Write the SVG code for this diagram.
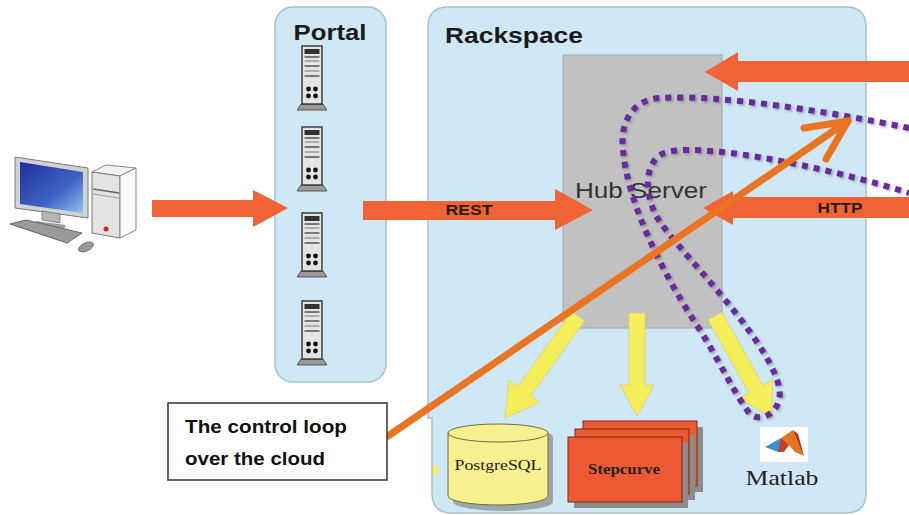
<svg xmlns="http://www.w3.org/2000/svg" xmlns:xlink="http://www.w3.org/1999/xlink" width="909" height="515" viewBox="0 0 909 515">
  <style>
    .panel { fill: #cfe8f5; stroke: #a9c2cf; stroke-width: 1.5; }
    .title { font-family: "Liberation Sans", Arial, sans-serif; font-weight: bold; font-size: 22px; fill: #1a1a1a; }
    .block { fill: #ef6335; }
    .lbl { font-family: "Liberation Sans", Arial, sans-serif; font-weight: bold; font-size: 15px; fill: #2a1a10; }
    .yarrow { fill: #f6ef5c; stroke: #d9d27a; stroke-width: 0.8; }
    .serif { font-family: "Liberation Serif", "Times New Roman", serif; fill: #222; }
    .loop { fill: none; stroke: #6a2c9e; stroke-width: 6; stroke-dasharray: 6 6; }
    .ctrl { fill: none; stroke: #ea7420; stroke-width: 7; stroke-linecap: round; stroke-linejoin: round; }
    .cap { font-family: "Liberation Sans", Arial, sans-serif; font-weight: bold; font-size: 19px; fill: #111; }
  </style>
  <defs>
    <filter id="soft" x="-10%" y="-10%" width="120%" height="120%">
      <feDropShadow dx="1.5" dy="1.5" stdDeviation="1.2" flood-color="#555" flood-opacity="0.45"/>
    </filter>
    <linearGradient id="screen" x1="0" y1="0" x2="1" y2="1">
      <stop offset="0" stop-color="#1f2f9a"/>
      <stop offset="0.6" stop-color="#3d63c4"/>
      <stop offset="1" stop-color="#8fc2ee"/>
    </linearGradient>
    <symbol id="server" viewBox="0 0 32 66" width="32" height="66">
      <polygon points="1,65 5,59 27,59 31,65" fill="#9a9a9a" stroke="#555" stroke-width="1"/>
      <rect x="6" y="1" width="20" height="58" fill="#e4e4e4" stroke="#333" stroke-width="1.4"/>
      <rect x="8.5" y="4" width="15" height="5" fill="#333"/>
      <line x1="8.5" y1="12" x2="23.5" y2="12" stroke="#555" stroke-width="1.5"/>
      <line x1="8.5" y1="16" x2="23.5" y2="16" stroke="#777" stroke-width="1"/>
      <line x1="8.5" y1="21" x2="23.5" y2="21" stroke="#555" stroke-width="1.5"/>
      <line x1="8.5" y1="26" x2="23.5" y2="26" stroke="#777" stroke-width="1"/>
      <line x1="8.5" y1="31" x2="23.5" y2="31" stroke="#555" stroke-width="1.5"/>
      <circle cx="12.5" cy="44" r="2.4" fill="#111"/>
      <circle cx="19.5" cy="44" r="2.4" fill="#111"/>
      <circle cx="12.5" cy="51" r="2.4" fill="#111"/>
      <circle cx="19.5" cy="51" r="2.4" fill="#111"/>
    </symbol>
  </defs>

  <rect width="909" height="515" fill="#ffffff"/>

  <!-- client workstation -->
  <g id="computer">
    <polygon points="15,157 88,168 88,218 15,208" fill="#d2d2d2" stroke="#7a7a7a" stroke-width="1"/>
    <polygon points="20,162 83,172 83,213 20,204" fill="url(#screen)"/>
    <polygon points="42,211 60,214 60,223 42,220" fill="#b5b5b5" stroke="#777" stroke-width="0.8"/>
    <polygon points="36,221 66,225 64,229 34,225" fill="#9c9c9c"/>
    <polygon points="10,224 26,220 82,233 67,243" fill="#9a9a9a" stroke="#666" stroke-width="1"/>
    <ellipse cx="86" cy="247" rx="8" ry="4" transform="rotate(-25 86 247)" fill="#9a9a9a" stroke="#666" stroke-width="0.8"/>
    <polygon points="92,172 106,165 136,168 120,176" fill="#f3f3f3" stroke="#888" stroke-width="1"/>
    <polygon points="92,172 120,176 120,238 92,233" fill="#e3e3e3" stroke="#777" stroke-width="1"/>
    <polygon points="120,176 136,168 136,230 120,238" fill="#fbfbfb" stroke="#888" stroke-width="1"/>
    <line x1="93" y1="189" x2="119" y2="193" stroke="#666" stroke-width="1.5"/>
    <line x1="93" y1="194" x2="119" y2="198" stroke="#999" stroke-width="1"/>
    <circle cx="106" cy="229" r="2.5" fill="#d42020"/>
  </g>

  <!-- Portal tier -->
  <g id="portal">
    <rect class="panel" x="275" y="7" width="111" height="375" rx="18"/>
    <text class="title" x="330" y="40" text-anchor="middle" textLength="73" lengthAdjust="spacingAndGlyphs">Portal</text>
    <use xlink:href="#server" x="296" y="45"/>
    <use xlink:href="#server" x="296" y="126"/>
    <use xlink:href="#server" x="296" y="212"/>
    <use xlink:href="#server" x="296" y="300"/>
  </g>

  <!-- Rackspace cloud -->
  <g id="rackspace">
    <path class="panel" d="M448,7 H846 Q866,7 866,27 V493 Q866,513 846,513 H452 Q432,513 432,493 V418 H428 V27 Q428,7 448,7 Z"/>
    <text class="title" x="445" y="43" textLength="138" lengthAdjust="spacingAndGlyphs">Rackspace</text>
    <polygon points="433,463 440,470 433,477" fill="#f6ef5c"/>
  </g>

  <g id="hub-server">
    <rect x="563" y="55" width="159" height="273" fill="#c1c1c1" stroke="#a6a6a6" stroke-width="1"/>
    <text x="641" y="198" text-anchor="middle" font-family="'Liberation Sans', Arial, sans-serif" font-size="22" fill="#333" textLength="132" lengthAdjust="spacingAndGlyphs">Hub Server</text>
  </g>

  <g id="postgresql">
    <path d="M453,437 V502 A50,9 0 0 0 553,502 V437 A50,9 0 0 0 453,437 Z" fill="#8a8a8a" opacity="0.7"/>
    <path d="M448,433 V496 A50,9 0 0 0 548,496 V433 A50,9 0 0 0 448,433 Z" fill="#f7f08e" stroke="#6f6c40" stroke-width="1"/>
    <path d="M448,433 A50,9 0 0 0 548,433" fill="none" stroke="#6f6c40" stroke-width="1"/>
    <text class="serif" x="498" y="470" text-anchor="middle" font-size="15" textLength="87" lengthAdjust="spacingAndGlyphs">PostgreSQL</text>
  </g>

  <g id="stepcurve">
    <rect x="589" y="427" width="114" height="65" fill="#8c8c8c"/>
    <rect x="583" y="421" width="114" height="65" fill="#ee5a33" stroke="#7a2a14" stroke-width="1"/>
    <rect x="581" y="435" width="114" height="65" fill="#8c8c8c"/>
    <rect x="575" y="429" width="114" height="65" fill="#ee5a33" stroke="#7a2a14" stroke-width="1"/>
    <rect x="574" y="443" width="114" height="65" fill="#8c8c8c"/>
    <rect x="568" y="437" width="114" height="65" fill="#ee5a33" stroke="#7a2a14" stroke-width="1"/>
    <text class="serif" x="624" y="474" text-anchor="middle" font-size="15" font-weight="bold" textLength="72" lengthAdjust="spacingAndGlyphs">Stepcurve</text>
  </g>

  <g id="matlab">
    <rect x="760" y="427" width="48" height="35" fill="#ffffff"/>
    <polygon points="765,447 781,438 789,445 778,452" fill="#3a8fd0"/>
    <polygon points="781,438 793,430 800,448 804,456 795,452 789,445" fill="#e8731e"/>
    <polygon points="793,430 798,434 804,456 800,448" fill="#b8321a"/>
    <polygon points="781,438 789,445 784,452 778,452" fill="#c4401e"/>
    <text class="serif" x="782" y="485" text-anchor="middle" font-size="22" textLength="73" lengthAdjust="spacingAndGlyphs">Matlab</text>
  </g>

  <!-- connectors -->
  <g id="connectors">
    <polygon class="block" points="152,200 253,200 253,190 288,208 253,227 253,217 152,217"/>
    <polygon class="block" points="363,201 555,201 555,189 593,210 555,230 555,220 363,220"/>
    <text class="lbl" x="469" y="215" text-anchor="middle" textLength="47" lengthAdjust="spacingAndGlyphs">REST</text>
    <polygon class="block" points="909,61 738,61 738,52 705,72 738,91 738,82 909,82"/>
    <polygon class="block" points="909,197 733,197 733,191 703,208 733,225 733,218 909,218"/>
    <text class="lbl" x="840" y="213" text-anchor="middle" textLength="45" lengthAdjust="spacingAndGlyphs">HTTP</text>

    <polygon class="yarrow" points="584.5,320.7 530.8,395.9 539.7,402.3 505,418 508.9,380.1 517.8,386.5 571.5,311.3"/>
    <polygon class="yarrow" points="629,313 645,313 645,385 654,385 637,416 620,385 629,385"/>
    <polygon class="yarrow" points="708,319.9 722,312.1 762.9,385.3 772.5,379.9 772,418 739.3,398.5 748.9,393.1"/>

    <path class="loop" filter="url(#soft)" d="M909,128 C830,112 720,94 660,98 C630,100 620,125 623,150 C627,200 660,270 700,330 C720,362 735,395 750,414 C760,422 775,415 779,400 C783,385 770,360 750,332 C720,290 680,250 660,222 C645,200 642,165 662,154 C690,140 820,165 909,193"/>

    <line class="ctrl" x1="388" y1="436" x2="848" y2="121"/>
    <polyline class="ctrl" points="804,128 848,121 826,159"/>
  </g>

  <g id="caption">
    <rect x="168" y="403" width="219" height="77" fill="#ffffff" stroke="#333" stroke-width="1.5"/>
    <text class="cap" x="185" y="433" textLength="162" lengthAdjust="spacingAndGlyphs">The control loop</text>
    <text class="cap" x="185" y="465" textLength="140" lengthAdjust="spacingAndGlyphs">over the cloud</text>
  </g>
</svg>
